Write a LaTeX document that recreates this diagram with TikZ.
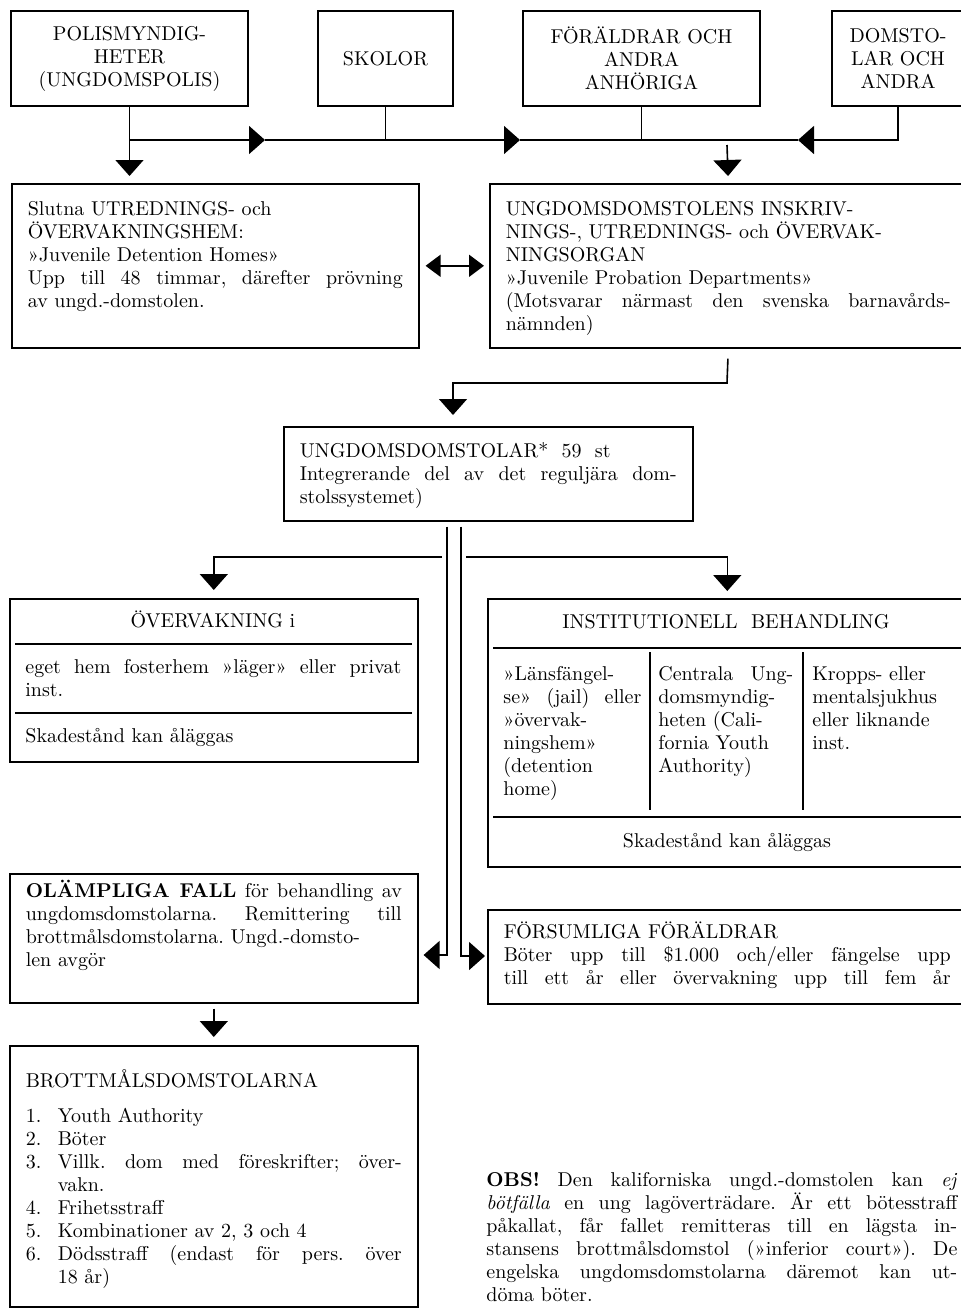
\documentclass[tikz,border=0pt]{standalone}
\usepackage{fontspec}
\usetikzlibrary{arrows.meta}
\frenchspacing
\newcommand{\fillline}[1]{\makebox[\linewidth][s]{#1}}
\newcommand{\boxtext}[4]{\parbox[c][#2][t]{#1}{\raggedright\rule{0pt}{#3}#4}}

\begin{document}
\begin{tikzpicture}[x=0.5pt,y=-0.5pt,font=\fontsize{10}{11.5}\selectfont,
  >={Triangle[length=8pt,width=14pt]},
  head/.style={rectangle,draw,line width=0.8pt,minimum height=47.5pt,inner sep=2pt,align=center},
  box/.style={rectangle,draw,line width=0.8pt,inner xsep=8pt,inner ysep=0pt,anchor=north west},
  panel/.style={rectangle,draw,line width=0.8pt,inner sep=0pt,anchor=north west},
  flow/.style={->,line width=0.8pt},
  flowboth/.style={<->,line width=0.8pt,>={Triangle[length=7.5pt,width=11pt]}},
  link/.style={line width=0.8pt},
  divider/.style={line width=0.8pt}]
\useasboundingbox (0,0) rectangle (961,1308);
\clip (0,0) rectangle (961,1308);

% reporting bodies
\node[head,minimum width=118.5pt] (polis) at (129.5,58.5) {POLISMYNDIG-\\HETER\\(UNGDOMSPOLIS)};
\node[head,minimum width=67.5pt] (skolor) at (385.5,58.5) {SKOLOR};
\node[head,minimum width=118.5pt] (foraldrar) at (641.5,58.5) {FÖRÄLDRAR OCH\\ANDRA\\ANHÖRIGA};
\node[head,minimum width=66pt] (domstolar) at (898,58.5) {DOMSTO-\\LAR OCH\\ANDRA};

% intake
\node[box] (slutna) at (11,183) {\boxtext{187.5pt}{82pt}{16pt}{Slutna UTREDNINGS- och\\ÖVERVAKNINGSHEM:\\»Juvenile Detention Homes»\\\fillline{Upp till 48 timmar, därefter prövning}\\av ungd.-domstolen.}};
\node[box] (juvprob) at (489,183) {\boxtext{222.5pt}{82pt}{16pt}{UNGDOMSDOMSTOLENS INSKRIV-\\NINGS-, UTREDNINGS- och ÖVERVAK-\\NINGSORGAN\\»Juvenile Probation Departments»\\\fillline{(Motsvarar närmast den svenska barnavårds-}\\nämnden)}};

% court
\node[box] (court) at (283,426) {\boxtext{188.5pt}{47pt}{15.5pt}{UNGDOMSDOMSTOLAR*\ \ 59\ \ st\\\fillline{Integrerande del av det reguljära dom-}\\stolssystemet)}};

% supervision
\node[panel,minimum width=204pt,minimum height=81.5pt] (superv) at (9,598) {};
\node[anchor=base,inner sep=0pt] (supervhead) at (213,627) {ÖVERVAKNING i};
\node[anchor=base west,inner sep=0pt] (supervplace) at (25,673) {\parbox[t]{188pt}{\raggedright\fillline{eget hem fosterhem »läger» eller privat}\\inst.}};
\node[anchor=base west,inner sep=0pt] (supervfee) at (25,742) {Skadestånd kan åläggas};
\draw[divider] (15,644) -- (412,644);
\draw[divider] (15,713) -- (412,713);

% institutions
\node[panel,minimum width=239.5pt,minimum height=134pt] (inst) at (487,598) {};
\node[anchor=base,inner sep=0pt] (insthead) at (726,628) {INSTITUTIONELL\ \ BEHANDLING};
\draw[divider] (493,648) -- (966,648);
\draw[divider] (493,817) -- (966,817);
\draw[divider] (650,652) -- (650,810);
\draw[divider] (803,652) -- (803,810);
\node[anchor=base west,inner sep=0pt] (instjail) at (503,680) {\parbox[t]{69pt}{\raggedright »Länsfängel-\\\fillline{se» (jail) eller}\\»övervak-\\ningshem»\\(detention\\home)}};
\node[anchor=base west,inner sep=0pt] (instcya) at (658,680) {\parbox[t]{67.5pt}{\raggedright\fillline{Centrala Ung-}\\domsmyndig-\\heten (Cali-\\fornia Youth\\Authority)}};
\node[anchor=base west,inner sep=0pt] (insthosp) at (812,680) {\parbox[t]{68pt}{\raggedright Kropps- eller\\mentalsjukhus\\eller liknande\\inst.}};
\node[anchor=base,inner sep=0pt] (instfee) at (727,847) {Skadestånd kan åläggas};

% referral and parents
\node[box] (olamp) at (9,873) {\boxtext{188pt}{64.5pt}{12pt}{\fillline{\textbf{OLÄMPLIGA FALL} för behandling av}\\\fillline{ungdomsdomstolarna. Remittering till}\\brottmålsdomstolarna. Ungd.-domsto-\\len avgör}};
\node[box] (neglect) at (487,909) {\boxtext{223.5pt}{47pt}{14.5pt}{FÖRSUMLIGA FÖRÄLDRAR\\\fillline{Böter upp till \$1.000 och/eller fängelse upp}\\\fillline{till ett år eller övervakning upp till fem år}}};

% criminal courts
\node[box] (brott) at (9,1045) {\boxtext{188pt}{130.5pt}{21pt}{BROTTMÅLSDOMSTOLARNA\\[6pt]
\makebox[16pt][l]{1.}Youth Authority\\
\makebox[16pt][l]{2.}Böter\\
\makebox[16pt][l]{3.}\makebox[172pt][s]{Villk. dom med föreskrifter; över-}\\
\hspace*{16pt}vakn.\\
\makebox[16pt][l]{4.}Frihetsstraff\\
\makebox[16pt][l]{5.}Kombinationer av 2, 3 och 4\\
\makebox[16pt][l]{6.}\makebox[172pt][s]{Dödsstraff (endast för pers. över}\\
\hspace*{16pt}18 år)}};

% note
\node[anchor=base west,inner sep=0pt] (obs) at (486,1186) {\parbox[t]{235.5pt}{\raggedright\fillline{\textbf{OBS!} Den kaliforniska ungd.-domstolen kan \emph{ej}}\\\fillline{\emph{bötfälla} en ung lagöverträdare. Är ett bötesstraff}\\\fillline{påkallat, får fallet remitteras till en lägsta in-}\\\fillline{stansens brottmålsdomstol (»inferior court»). De}\\\fillline{engelska ungdomsdomstolarna däremot kan ut-}\\döma böter.}};

% connectors
\coordinate (busa) at (265,140);
\coordinate (busb) at (520,140);
\coordinate (busc) at (798,140);
\coordinate (jpin) at (727,145);
\coordinate (xjp) at (727,383);
\coordinate (xct) at (453,383);
\coordinate (lb) at (442,557);
\coordinate (rb) at (466,557);
\coordinate (lt) at (447,955);
\coordinate (rt) at (461,956);

\draw[flow,shorten >=3.5pt] (polis.south) -- (polis.south |- slutna.north);
\draw[flow] (polis.south |- busa) -- (busa);
\draw[flow] (busa) -- (busb);
\draw[link] (busb) -- (busc);
\draw[link] (skolor.south) -- (skolor.south |- busa);
\draw[link] (foraldrar.south) -- (foraldrar.south |- busa);
\draw[flow] (domstolar.south) |- (busc);
\draw[flow,shorten >=3.5pt] (jpin) -- (juvprob.north);
\draw[flowboth,shorten <=3pt,shorten >=2.5pt] (slutna.east) -- (juvprob.west);
\draw[flow,shorten <=5pt,shorten >=5.5pt] (juvprob.south) -- (xjp) -- (xct) -- (xct |- court.north);
\draw[flow,shorten <=2.5pt,shorten >=2.5pt] (court.south -| lt) -- (lt) -- (olamp.east |- lt);
\draw[flow,shorten <=2.5pt,shorten >=1pt] (court.south -| rt) -- (rt) -- (neglect.west |- rt);
\draw[flow,shorten >=4pt] (lb) -| (superv.north);
\draw[flow,shorten >=3.5pt] (rb) -| (inst.north);
\draw[flow,shorten <=2.5pt,shorten >=4pt] (olamp.south) -- (brott.north);
\end{tikzpicture}
\end{document}
